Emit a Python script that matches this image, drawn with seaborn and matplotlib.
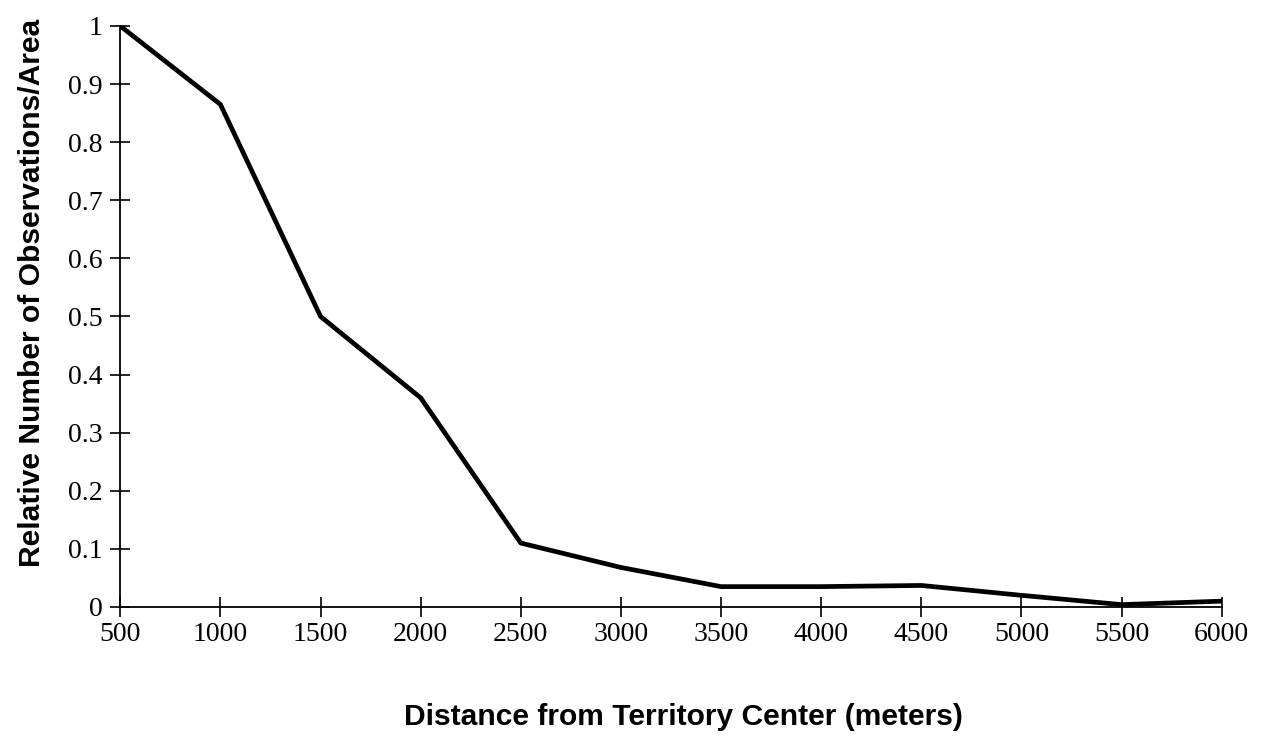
import numpy as np
import pandas as pd
import matplotlib
matplotlib.use('Agg')
import matplotlib.pyplot as plt
import seaborn as sns

# values
distance_m = [500, 1000, 1500, 2000, 2500, 3000, 3500, 4000, 4500, 5000, 5500, 6000]
relative_obs = [1.0, 0.865, 0.50, 0.36, 0.11, 0.068, 0.035, 0.035, 0.037, 0.02, 0.004, 0.01]
y_ticks = [0, 0.1, 0.2, 0.3, 0.4, 0.5, 0.6, 0.7, 0.8, 0.9, 1]
y_tick_labels = ['0', '0.1', '0.2', '0.3', '0.4', '0.5', '0.6', '0.7', '0.8', '0.9', '1']
x_ticks = list(range(500, 6001, 500))

sns.set_theme(style='ticks')
plt.rcParams['font.family'] = ['Liberation Serif', 'DejaVu Serif']
plt.rcParams['text.color'] = 'black'
plt.rcParams['axes.labelcolor'] = 'black'
plt.rcParams['xtick.color'] = 'black'
plt.rcParams['ytick.color'] = 'black'

df = pd.DataFrame({'distance': distance_m, 'rel': relative_obs})

fig = plt.figure(figsize=(12.66, 7.42), dpi=100)
ax = fig.add_axes([0.095, 0.182, 0.87, 0.783])
sns.lineplot(data=df, x='distance', y='rel', color='black', linewidth=3.4, ax=ax)

ax.set_xlim(500, 6000)
ax.set_ylim(0, 1)
ax.set_xticks(x_ticks)
ax.set_yticks(y_ticks)
ax.set_yticklabels(y_tick_labels)
ax.tick_params(axis='both', direction='inout', length=15, width=1.2, labelsize=20)
ax.tick_params(axis='y', pad=5)
ax.tick_params(axis='x', pad=3)
sns.despine(ax=ax)
for s in ['left', 'bottom']:
    ax.spines[s].set_linewidth(1.3)
    ax.spines[s].set_color('black')

label_font = dict(family=['Liberation Sans', 'DejaVu Sans'], weight='bold', size=21.6)
ax.set_xlabel('Distance from Territory Center (meters)', **label_font)
ax.set_ylabel('Relative Number of Observations/Area', **label_font)
ax.xaxis.set_label_coords(0.511, -0.166)
ax.yaxis.set_label_coords(-0.067, 0.541)

fig.savefig('out.png', dpi=100, facecolor='white')
